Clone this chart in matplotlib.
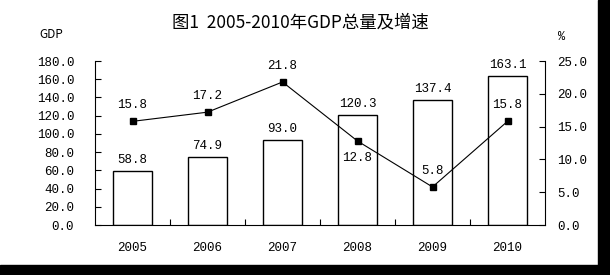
import matplotlib.pyplot as plt
import matplotlib.patches as patches
import numpy as np

years = ['2005', '2006', '2007', '2008', '2009', '2010']
gdp = [58.8, 74.9, 93.0, 120.3, 137.4, 163.1]
growth = [15.8, 17.2, 21.8, 12.8, 5.8, 15.8]
gdp_ticks = [0, 20, 40, 60, 80, 100, 120, 140, 160, 180]
growth_ticks = [0, 5, 10, 15, 20, 25]

num_font = 'Liberation Mono'
cjk = ['Noto Sans CJK SC', 'DejaVu Sans']

fig = plt.figure(figsize=(6.1, 2.75), dpi=100)
ax = fig.add_axes([95 / 610, 50 / 275, 450 / 610, 164 / 275])
x = np.arange(len(years))

ax.bar(x, gdp, width=0.53, color='white', edgecolor='black', linewidth=1.0)
for xi, v in zip(x, gdp):
    ax.annotate(f'{v:.1f}', (xi, v), xytext=(0, 8), textcoords='offset points',
                ha='center', va='center', fontsize=9, family=num_font)

ax.set_xlim(-0.5, len(years) - 0.5)
ax.set_ylim(0, 180)
ax.set_yticks(gdp_ticks)
ax.set_yticklabels([f'{t:.1f}' for t in gdp_ticks], family=num_font, fontsize=9)
ax.set_xticks(x)
ax.set_xticklabels(years, family=num_font, fontsize=9)
ax.set_xticks(np.arange(len(years) + 1)[1:-1] - 0.5, minor=True)
ax.tick_params(axis='x', which='major', length=0, pad=12)
ax.tick_params(axis='x', which='minor', direction='in', length=4, width=0.8)
ax.tick_params(axis='y', direction='in', length=4, width=0.8, pad=15)
for s in ['top', 'right']:
    ax.spines[s].set_visible(False)

ax2 = ax.twinx()
ax2.plot(x, growth, color='black', linewidth=0.8, marker='s', markersize=4)
for i, (xi, v) in enumerate(zip(x, growth)):
    dy = -12 if years[i] == '2008' else 11.5
    ax2.annotate(f'{v:.1f}', (xi, v), xytext=(0, dy), textcoords='offset points',
                 ha='center', va='center', fontsize=9, family=num_font)
ax2.set_ylim(0, 25)
ax2.set_yticks(growth_ticks)
ax2.set_yticklabels([f'{t:.1f}' for t in growth_ticks], family=num_font, fontsize=9)
ax2.tick_params(axis='y', direction='in', length=4, width=0.8, pad=9)
for s in ['top', 'left', 'bottom']:
    ax2.spines[s].set_visible(False)

fig.text(300 / 610, 1 - 22 / 275, '图1  2005-2010年GDP总量及增速', ha='center', va='center',
         fontsize=12.5, family=cjk)
fig.text(51 / 610, 1 - 35 / 275, 'GDP', ha='center', va='center', fontsize=8.5, family=cjk)
fig.text(562 / 610, 1 - 37 / 275, '%', ha='center', va='center', fontsize=8.5, family=num_font)

# black frame strips on right and bottom
fig.patches.append(patches.Rectangle((598 / 610, 0), 12 / 610, 1, transform=fig.transFigure,
                                     color='black', zorder=10))
fig.patches.append(patches.Rectangle((0, 0), 1, 10 / 275, transform=fig.transFigure,
                                     color='black', zorder=10))

fig.savefig('out.png', dpi=100)
